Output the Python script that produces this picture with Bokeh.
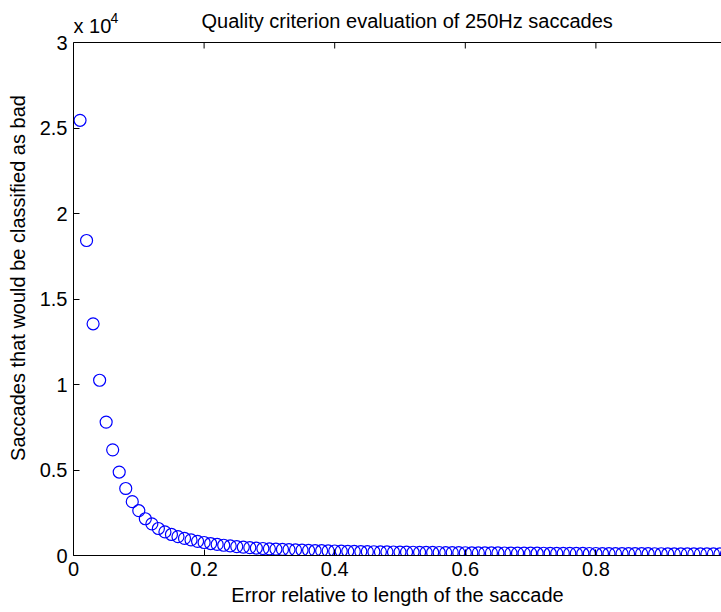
import math
from bokeh.plotting import figure
from bokeh.models import LinearAxis, Range1d, Label, FixedTicker, Span
from bokeh.embed import file_html
from bokeh.resources import INLINE

# relative error thresholds
error_rel = [round(0.01 * k, 2) for k in range(1, 101)]
# saccades that would be classified as bad
bad_counts = [
    25450, 18420, 13550, 10250, 7800, 6180, 4880, 3920, 3150, 2620,
    2150, 1850, 1580, 1380, 1230, 1100, 1000, 910, 830, 760,
    700, 650, 600, 560, 520, 490, 460, 435, 410, 390,
    370, 355, 340, 325, 312, 300, 290, 280, 270, 262,
    254, 246, 239, 232, 226, 220, 214, 209, 204, 199,
    195, 190, 186, 182, 178, 175, 171, 168, 165, 162,
    159, 156, 153, 150, 148, 145, 143, 141, 138, 136,
    134, 132, 130, 128, 126, 124, 122, 120, 118, 117,
    115, 113, 112, 110, 109, 107, 106, 104, 103, 102,
    100, 99, 98, 96, 95, 94, 93, 92, 91, 90,
]
x_ticks = [0, 0.2, 0.4, 0.6, 0.8, 1.0]
x_tick_labels = ["0", "0.2", "0.4", "0.6", "0.8", "1"]
y_ticks = [0, 5000, 10000, 15000, 20000, 25000, 30000]
y_tick_labels = ["0", "0.5", "1", "1.5", "2", "2.5", "3"]
title_text = "Quality criterion evaluation of 250Hz saccades"
x_label = "Error relative to length of the saccade"
y_label = "Saccades that would be classified as bad"

FONT = "Liberation Sans"
FS = "20px"

X_MAX, Y_MAX = 1.0, 30000
# axes box geometry in pixels (box extends slightly beyond the window on the right)
LEFT, TOP, BOTTOM, BOX_W = 73, 42, 57, 653
W, H = 721, 612
box_h = H - TOP - BOTTOM
y_end = Y_MAX * (box_h + TOP) / box_h
x_end = X_MAX * (W - LEFT) / BOX_W

p = figure(width=W, height=H, output_backend="svg", toolbar_location=None,
           x_range=Range1d(0, x_end), y_range=Range1d(0, y_end),
           min_border_left=LEFT, min_border_right=0, min_border_top=0,
           min_border_bottom=BOTTOM, x_axis_location=None, y_axis_location=None)
p.outline_line_color = None
p.grid.visible = False
p.background_fill_color = "white"
p.border_fill_color = "white"


def style(ax):
    ax.axis_line_color = "black"
    ax.axis_line_width = 1
    ax.major_tick_in = 6
    ax.major_tick_out = 0
    ax.minor_tick_line_color = None
    ax.major_tick_line_color = "black"
    ax.major_label_text_font = FONT
    ax.major_label_text_font_size = FS
    ax.major_label_text_color = "black"
    ax.axis_label_text_font = FONT
    ax.axis_label_text_font_size = FS
    ax.axis_label_text_font_style = "normal"
    ax.axis_label_text_color = "black"


xb = LinearAxis(ticker=FixedTicker(ticks=x_ticks), axis_label=x_label)
xb.major_label_overrides = dict(zip(x_ticks, x_tick_labels))
style(xb)
xb.major_label_standoff = 6
xb.axis_label_standoff = 5
p.add_layout(xb, "below")

yl = LinearAxis(ticker=FixedTicker(ticks=y_ticks), axis_label=y_label,
                bounds=(0, Y_MAX))
yl.major_label_overrides = dict(zip(y_ticks, y_tick_labels))
style(yl)
yl.major_label_standoff = 6
yl.axis_label_standoff = 8
p.add_layout(yl, "left")

# top edge of the axes box with inward ticks
p.add_layout(Span(location=Y_MAX, dimension="width", line_color="black", line_width=1))
p.ray(x=x_ticks, y=[Y_MAX] * len(x_ticks), length=6, length_units="screen",
      angle=-math.pi / 2, line_color="black", line_width=1)
# right edge ticks (edge itself lies just outside the window)
p.ray(x=[X_MAX] * len(y_ticks), y=y_ticks, length=5, length_units="screen",
      angle=math.pi, line_color="black", line_width=1)

p.scatter(error_rel, bad_counts, marker="circle", size=12, fill_color=None,
          line_color="#0000ff", line_width=1.2)

p.add_layout(Label(x=0.511, y=Y_MAX, text=title_text, text_font=FONT,
                   text_font_size=FS, text_align="center",
                   text_baseline="alphabetic", y_offset=22, text_color="black"))
p.add_layout(Label(x=0, y=Y_MAX, text="x 10", text_font=FONT, text_font_size=FS,
                   text_baseline="alphabetic", text_align="left", y_offset=17,
                   text_color="black"))
p.add_layout(Label(x=0, y=Y_MAX, text="4", text_font=FONT, text_font_size="14px",
                   text_baseline="alphabetic", text_align="left", y_offset=25,
                   x_offset=37, text_color="black"))

open("out.html", "w").write(file_html(p, INLINE))
